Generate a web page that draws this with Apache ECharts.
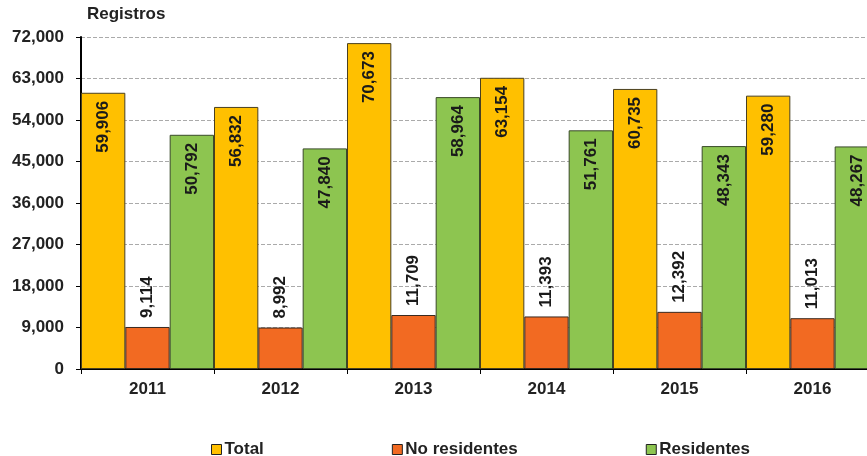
<!DOCTYPE html>
<html>
<head>
<meta charset="utf-8">
<script src="https://cdn.jsdelivr.net/npm/echarts@6/dist/echarts.min.js"></script>
<style>
  html, body { margin: 0; padding: 0; background: #fff; overflow: hidden; }
  #chart { width: 879px; height: 456px; }
</style>
</head>
<body>
<div id="chart"></div>
<script>
const years = ['2011', '2012', '2013', '2014', '2015', '2016']
const total = [59906, 56832, 70673, 63154, 60735, 59280]
const noResidentes = [9114, 8992, 11709, 11393, 12392, 11013]
const residentes = [50792, 47840, 58964, 51761, 48343, 48267]
const yTicks = [0, 9000, 18000, 27000, 36000, 45000, 54000, 63000, 72000]

const font = 'Liberation Sans, Arial, sans-serif'
const fmt = v => v.toLocaleString('en-US')

const chart = echarts.init(document.getElementById('chart'))

// labels rotated to read bottom-to-top, like the original
const insideLabel = {
  show: true,
  position: 'insideTop',
  rotate: 90,
  align: 'right',
  verticalAlign: 'middle',
  distance: 8,
  color: '#1a1a1a',
  fontFamily: font,
  fontWeight: 'bold',
  fontSize: 17,
  formatter: p => fmt(p.value)
}

const barBase = {
  type: 'bar',
  barGap: '0%',
  barCategoryGap: '0%'
}

chart.setOption({
  animation: false,
  textStyle: { fontFamily: font },
  grid: { left: 81, right: 0, top: 37, bottom: 87 },
  legend: {
    left: 206,
    top: 436,
    itemWidth: 10,
    itemHeight: 10,
    itemGap: 128,
    icon: 'rect',
    textStyle: { fontFamily: font, fontWeight: 'bold', fontSize: 17, color: '#222', padding: [0, 0, 0, -2] },
    data: [
      { name: 'Total', itemStyle: { borderColor: '#222', borderWidth: 1 } },
      { name: 'No residentes', itemStyle: { borderColor: '#222', borderWidth: 1 } },
      { name: 'Residentes', itemStyle: { borderColor: '#222', borderWidth: 1 } }
    ]
  },
  xAxis: {
    type: 'category',
    data: years,
    axisLine: { lineStyle: { color: '#000', width: 2 } },
    axisTick: { show: true, length: 5, lineStyle: { color: '#000' } },
    axisLabel: { color: '#222', fontWeight: 'bold', fontSize: 17, margin: 12 }
  },
  yAxis: {
    type: 'value',
    min: yTicks[0],
    max: yTicks[yTicks.length - 1],
    interval: yTicks[1] - yTicks[0],
    name: 'Registros',
    nameGap: 14,
    nameTextStyle: { color: '#222', fontWeight: 'bold', fontSize: 17, align: 'left', padding: [0, 0, 0, 6] },
    axisLine: { show: true, lineStyle: { color: '#000', width: 2 } },
    axisTick: { show: true, length: 5, lineStyle: { color: '#000' } },
    axisLabel: { color: '#222', fontWeight: 'bold', fontSize: 17, margin: 17, formatter: v => fmt(v) },
    splitLine: { lineStyle: { color: '#aaa', type: 'dashed' } }
  },
  series: [
    Object.assign({}, barBase, {
      name: 'Total',
      data: total,
      itemStyle: { color: '#FFC000', borderColor: '#4a4020', borderWidth: 1 },
      label: insideLabel
    }),
    Object.assign({}, barBase, {
      name: 'No residentes',
      data: noResidentes,
      itemStyle: { color: '#F26A22', borderColor: '#3a2a20', borderWidth: 1 },
      label: Object.assign({}, insideLabel, { position: 'top', align: 'left', distance: 9 })
    }),
    Object.assign({}, barBase, {
      name: 'Residentes',
      data: residentes,
      itemStyle: { color: '#8DC550', borderColor: '#3a4a2a', borderWidth: 1 },
      label: insideLabel
    })
  ]
})
</script>
</body>
</html>
